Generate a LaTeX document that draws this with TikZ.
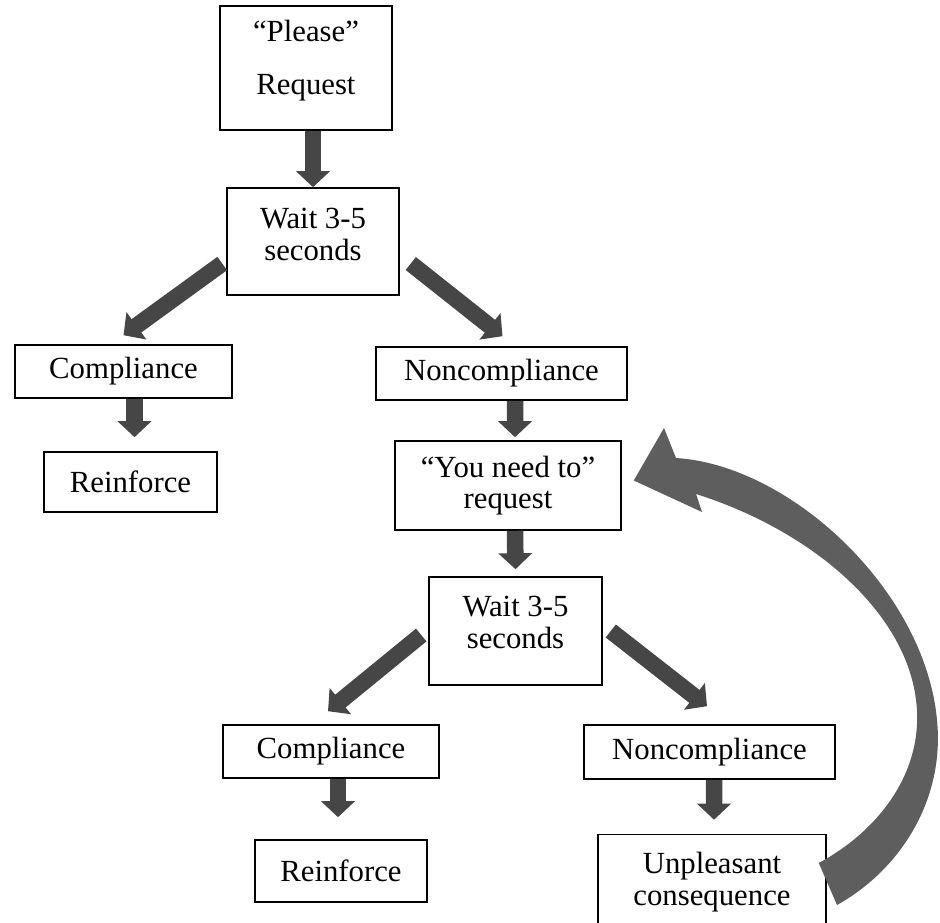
\documentclass[tikz,border=0pt]{standalone}
\usepackage{fontspec}
\setmainfont{Liberation Serif}
\usetikzlibrary{arrows.meta,calc}
\definecolor{arrowgray}{HTML}{464646}
\definecolor{loopgray}{HTML}{5E5E5E}
\begin{document}
\begin{tikzpicture}
	[x=0.02cm,y=-0.02cm,
	box/.style={draw,line width=0.9pt,fill=white,align=center,inner sep=0pt,font=\fontsize{17.5}{18}\selectfont},
	flow/.style={draw=arrowgray,line width=0.33cm,-{Triangle[width=0.66cm,length=0.32cm]}}]
	\useasboundingbox (0,0) rectangle (940,923);
	\node[box,name=please,minimum width=3.44cm,minimum height=2.48cm] at (306,68) {``Please''\\[12pt]Request\\[-6pt]\mbox{}};
	\node[box,name=wait1,minimum width=3.44cm,minimum height=2.14cm] at (313,241.5) {Wait 3-5\\seconds\\[-10pt]\mbox{}};
	\node[box,name=comp1,minimum width=4.34cm,minimum height=1.06cm] at (123.5,371.5) {Compliance};
	\node[box,name=reinf1,minimum width=3.46cm,minimum height=1.2cm] at (130.5,482) {Reinforce};
	\node[box,name=noncomp1,minimum width=5.02cm,minimum height=1.06cm] at (501.5,373.5) {Noncompliance};
	\node[box,name=youneed,minimum width=4.52cm,minimum height=1.78cm] at (508,485.5) {``You need to''\\request};
	\node[box,name=wait2,minimum width=3.46cm,minimum height=2.16cm] at (515.5,631) {Wait 3-5\\seconds\\[-8pt]\mbox{}};
	\node[box,name=comp2,minimum width=4.32cm,minimum height=1.06cm] at (331,751.5) {Compliance};
	\node[box,name=reinf2,minimum width=3.44cm,minimum height=1.24cm] at (341,871) {Reinforce};
	\node[box,name=noncomp2,minimum width=5.02cm,minimum height=1.08cm] at (709.5,752) {Noncompliance};
	\node[box,name=unpl,minimum width=4.56cm,minimum height=1.9cm] at (712,882) {Unpleasant\\consequence};
	\draw[flow](please.south -| wait1.north)--(wait1.north);
	\draw[flow]($(wait1.west)+(-4,22)$)--($(comp1.north)+(0,-9)$);
	\draw[flow]($(wait1.east)+(11,22)$)--($(noncomp1.north)+(1,-10)$);
	\draw[flow]($(comp1.south)+(11,0)$)--($(reinf1.north)+(4,-14)$);
	\draw[flow]($(noncomp1.south)+(13.5,0)$)--($(youneed.north)+(7,-3)$);
	\draw[flow]($(youneed.south)+(7,0)$)--($(wait2.north)+(0,-7)$);
	\draw[flow]($(wait2.west)+(-7,4)$)--($(comp2.north)+(-3,-13)$);
	\draw[flow]($(wait2.east)+(8,0)$)--($(noncomp2.north)+(-2.5,-18)$);
	\draw[flow]($(comp2.south)+(7,0)$)--($(reinf2.north)+(-3,-22)$);
	\draw[flow]($(noncomp2.south)+(4.5,0)$)--($(unpl.north)+(2,-14)$);
	\coordinate (looptip) at ($(youneed.east)+(12,-5)$);
	\coordinate (looptail) at ($(unpl.east)+(-8,-19)$);
	\fill[loopgray](looptip)--(664,428)--(676,458)
		..controls (790,465) and (925,590)..(937,720)
		..controls (945,800) and (900,870)..(837,905)
		--(looptail)
		..controls (880,830) and (925,770)..(916,700)
		..controls (905,610) and (810,530)..(696,494)
		--(702,512)--cycle;
\end{tikzpicture}
\end{document}
